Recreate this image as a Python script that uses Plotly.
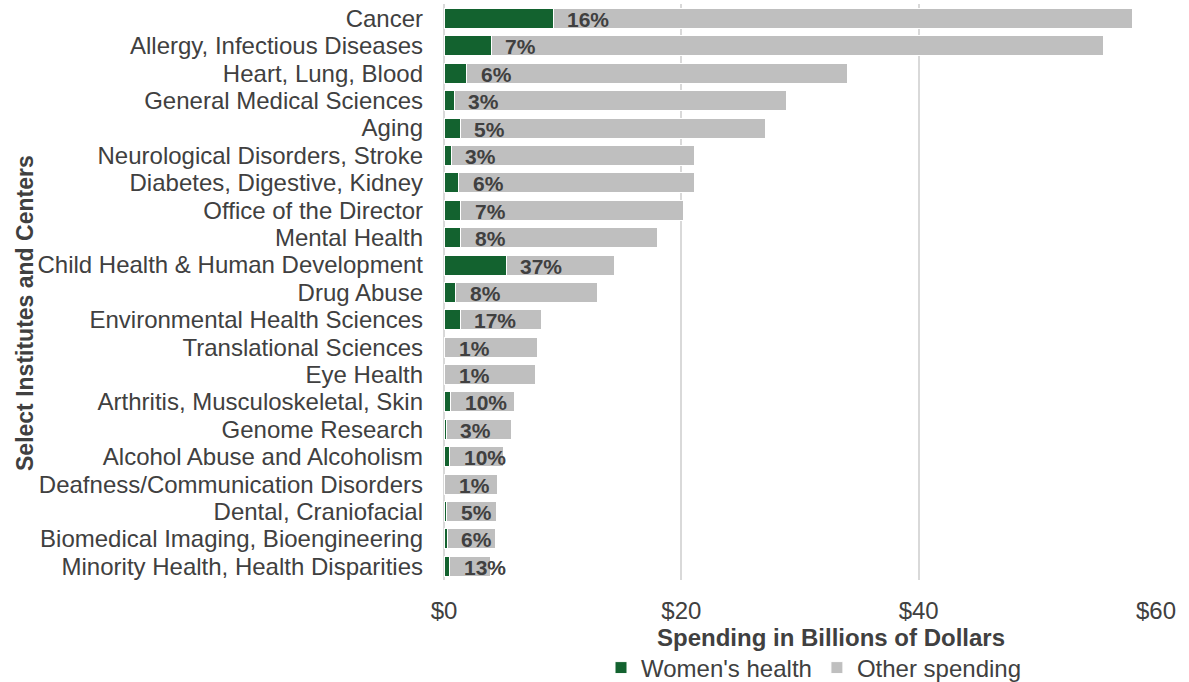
import plotly.graph_objects as go

categories = [
    "Cancer", "Allergy, Infectious Diseases", "Heart, Lung, Blood",
    "General Medical Sciences", "Aging", "Neurological Disorders, Stroke",
    "Diabetes, Digestive, Kidney", "Office of the Director", "Mental Health",
    "Child Health & Human Development", "Drug Abuse",
    "Environmental Health Sciences", "Translational Sciences", "Eye Health",
    "Arthritis, Musculoskeletal, Skin", "Genome Research",
    "Alcohol Abuse and Alcoholism", "Deafness/Communication Disorders",
    "Dental, Craniofacial", "Biomedical Imaging, Bioengineering",
    "Minority Health, Health Disparities",
]
womens_health = [9.2, 4.0, 1.9, 0.85, 1.35, 0.6, 1.25, 1.4, 1.4, 5.25, 1.0,
                 1.35, 0.08, 0.08, 0.55, 0.17, 0.5, 0.05, 0.22, 0.26, 0.5]
other_spending = [48.8, 51.6, 32.1, 28.05, 25.75, 20.5, 19.85, 18.8, 16.6, 9.15,
                  11.9, 6.85, 7.77, 7.67, 5.35, 5.48, 4.55, 4.5, 4.18, 4.04, 3.45]
pct_labels = ["16%", "7%", "6%", "3%", "5%", "3%", "6%", "7%", "8%", "37%", "8%",
              "17%", "1%", "1%", "10%", "3%", "10%", "1%", "5%", "6%", "13%"]
x_ticks = [0, 20, 40, 60]
x_tick_labels = ["$0", "$20", "$40", "$60"]

GREEN = "#13622F"
GREY = "#BFBFBF"
TXT = "#404040"
FONT = "Liberation Sans, Arial, sans-serif"

fig = go.Figure()
fig.add_trace(go.Bar(
    y=categories, x=womens_health, orientation="h", name="Women's health",
    marker=dict(color=GREEN, line=dict(color="white", width=1)),
    hoverinfo="x+y",
))
fig.add_trace(go.Bar(
    y=categories, x=other_spending, orientation="h", name="Other spending",
    marker=dict(color=GREY, line=dict(color="white", width=1)),
    hoverinfo="x+y",
))

annotations = []
for cat, w, lab in zip(categories, womens_health, pct_labels):
    annotations.append(dict(
        x=w, y=cat, xref="x", yref="y", text=lab, showarrow=False,
        xanchor="left", yanchor="middle", xshift=12, yshift=-1,
        font=dict(family=FONT, size=21, color=TXT, weight="bold"),
    ))

annotations.append(dict(
    text="Spending in Billions of Dollars", xref="paper", yref="paper",
    x=0.5435, y=(580 - 637) / 576, xanchor="center", yanchor="middle",
    showarrow=False, font=dict(family=FONT, size=24, color=TXT, weight="bold"),
))
annotations.append(dict(
    text="Select Institutes and Centers", xref="paper", yref="paper",
    x=(25 - 444) / 712, y=(580 - 313) / 576, xanchor="center", yanchor="middle",
    textangle=-90, showarrow=False,
    font=dict(family=FONT, size=23, color=TXT, weight="bold"),
))

fig.update_layout(
    barmode="stack",
    bargap=0.27,
    width=1189, height=682,
    margin=dict(l=444, r=33, t=4, b=102),
    paper_bgcolor="white", plot_bgcolor="white",
    font=dict(family=FONT, color=TXT),
    annotations=annotations,
    showlegend=True,
    legend=dict(
        orientation="h", xref="container", yref="container",
        x=814 / 1189, y=(682 - 668) / 682,
        xanchor="center", yanchor="middle",
        font=dict(family=FONT, size=24, color=TXT),
        traceorder="normal", itemwidth=30,
    ),
    xaxis=dict(
        range=[0, 60], tickmode="array", tickvals=x_ticks, ticktext=x_tick_labels,
        showgrid=True, gridcolor="#D9D9D9", gridwidth=2,
        zeroline=True, zerolinecolor="#D9D9D9", zerolinewidth=2,
        showline=False, ticks="", ticklabelstandoff=14, automargin=False,
        tickfont=dict(family=FONT, size=24, color=TXT),
    ),
    yaxis=dict(
        autorange="reversed", showgrid=False, zeroline=False, showline=False,
        tickmode="array", tickvals=categories, ticktext=categories,
        ticks="", ticklabelstandoff=20, automargin=False,
        tickfont=dict(family=FONT, size=24, color=TXT),
    ),
)

fig.write_html("out.html")
